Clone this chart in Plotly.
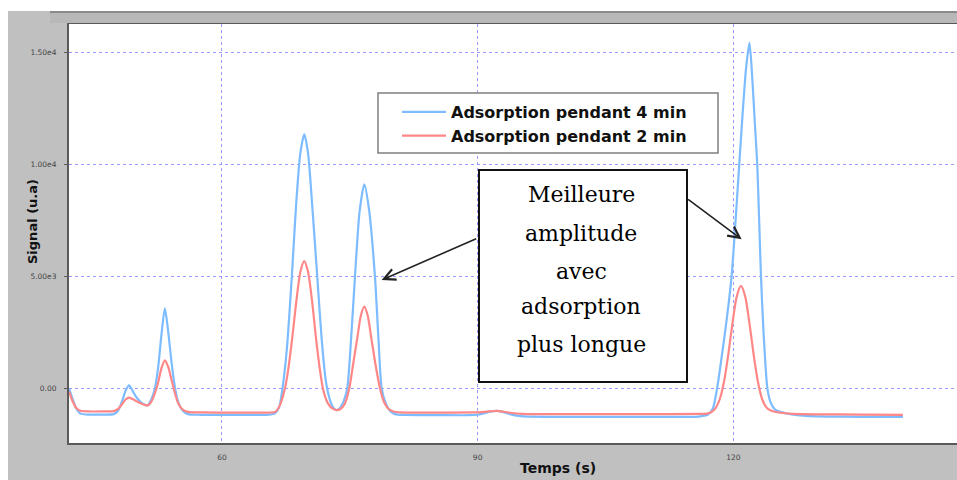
import plotly.graph_objects as go

# ---------------- data ----------------
t_4min = [42.05, 42.5, 42.9, 43.4, 44.2, 46.0, 47.3, 47.8, 48.3, 48.7, 49.1, 49.5, 50.0, 50.5, 51.0, 51.3,
          51.7, 52.1, 52.5, 52.9, 53.3, 53.7, 54.1, 54.5, 54.9, 55.4, 56.0, 57.5, 60.0, 63.0, 65.5,
          66.2, 66.7, 67.1, 67.6, 68.2, 68.7, 69.2, 69.66, 70.1, 70.6, 71.18, 71.7, 72.2, 72.7, 73.1,
          73.46, 73.9, 74.3, 74.7, 75.15, 75.61, 76.15, 76.7, 77.25, 77.95, 78.35, 78.74, 79.2, 79.7,
          80.3, 81.5, 85.0, 89.0, 89.9, 90.7, 91.5, 92.25, 93.0, 93.8, 94.8, 96.0, 100.0, 105.0, 110.0,
          115.5, 116.3, 117.0, 117.6, 118.1, 118.6, 119.2, 119.8, 120.25, 120.7, 121.1, 121.5, 121.9,
          122.25, 122.55, 122.81, 123.05, 123.25, 123.55, 124.0, 124.4, 124.9, 125.4, 126.2, 127.5,
          129.0, 131.0, 135.0, 139.9]
signal_4min = [0, -500, -900, -1130, -1170, -1170, -1150, -1000, -550, -100, 130, -100, -420, -620, -740, -760,
               -500, -50, 900, 2400, 3571, 2500, 1100, 0, -650, -1000, -1150, -1180, -1185, -1185, -1180,
               -1120, -850, 0, 1700, 5000, 8200, 10500, 11340, 10500, 8100, 5000, 2200, 300, -550, -880,
               -969, -850, -550, 0, 2200, 5000, 7900, 9107, 8000, 5000, 2300, 0, -650, -1000,
               -1150, -1190, -1195, -1200, -1180, -1120, -1040, -1010, -1060, -1150, -1230, -1265, -1270, -1275, -1275,
               -1270, -1240, -1180, -900, 0, 1300, 3000, 5000, 7400, 10000, 12300, 14300, 15430,
               13700, 11700, 10000, 7300, 5000, 2500, 0, -650, -950, -1040, -1120, -1200,
               -1240, -1260, -1270, -1275]

t_2min = [42.05, 42.5, 42.9, 43.4, 44.3, 46.0, 47.3, 47.8, 48.3, 48.7, 49.1, 49.5, 50.0, 50.5, 51.0, 51.3,
          51.7, 52.1, 52.5, 52.9, 53.3, 53.7, 54.1, 54.5, 54.9, 55.4, 56.0, 57.5, 60.0, 63.0, 65.5,
          66.3, 66.8, 67.39, 67.8, 68.25, 68.7, 69.2, 69.65, 70.1, 70.6, 71.03, 71.5, 71.9, 72.4, 72.9,
          73.46, 73.9, 74.4, 74.94, 75.4, 75.9, 76.3, 76.7, 77.1, 77.5, 78.0, 78.54, 79.0, 79.5, 80.1,
          81.0, 85.0, 89.5, 90.5, 91.4, 92.25, 93.1, 94.0, 95.2, 100.0, 110.0, 116.0, 116.9, 117.4,
          117.9, 118.4, 118.9, 119.4, 119.9, 120.4, 120.9, 121.4, 121.9, 122.4, 122.9, 123.4, 123.9,
          124.4, 125.0, 125.8, 127.0, 130.0, 135.0, 139.9]
signal_2min = [-150, -600, -880, -1000, -1030, -1030, -1020, -920, -700, -500, -415, -480, -580, -680, -750, -760,
               -600, -250, 250, 900, 1250, 950, 350, -250, -700, -950, -1050, -1075, -1080, -1080, -1080,
               -1040, -750, 0, 900, 2260, 3800, 5200, 5683, 5200, 3800, 2260, 800, -100, -650, -880,
               -969, -920, -700, 0, 1100, 2300, 3250, 3647, 3250, 2300, 1100, 0, -600, -900, -1030,
               -1075, -1080, -1075, -1060, -1030, -1005, -1045, -1100, -1140, -1150, -1150, -1140, -1128, -1069,
               -898, -498, 274, 1470, 2894, 4095, 4570, 4095, 2894, 1470, 274, -498, -860,
               -990, -1055, -1100, -1140, -1160, -1170, -1180]

series_names = ["Adsorption pendant 4 min", "Adsorption pendant 2 min"]
y_tick_vals = [0, 5000, 10000, 15000]
y_tick_text = ["0.00", "5.00e3", "1.00e4", "1.50e4"]
x_tick_vals = [60, 90, 120]
x_tick_text = ["60", "90", "120"]
x_title = "Temps (s)"
y_title = "Signal (u.a)"
note_lines = ["Meilleure", "amplitude", "avec", "adsorption", "plus longue"]
# arrow tips (data coordinates) pointing at peaks
arrow_tips_t = [78.74, 120.98]
arrow_tips_v = [4835, 6652]

# ---------------- layout helpers ----------------
W, H = 957, 480
L, R, T, B = 69, 0, 24, 37
PW, PH = W - L - R, H - T - B


def px(x):
    return (x - L) / PW


def py(y):
    return (H - B - y) / PH


fig = go.Figure()
fig.add_trace(go.Scatter(x=t_4min, y=signal_4min, mode="lines", name=series_names[0],
                         line=dict(color="rgb(125,188,255)", width=2.2, shape="spline", smoothing=0.7)))
fig.add_trace(go.Scatter(x=t_2min, y=signal_2min, mode="lines", name=series_names[1],
                         line=dict(color="rgb(255,135,135)", width=2.2, shape="spline", smoothing=0.7)))

grid_col = "rgba(120,120,255,0.75)"
fig.update_xaxes(range=[42.05, 146.25], tickvals=x_tick_vals, ticktext=x_tick_text,
                 showgrid=True, gridcolor=grid_col, griddash="dot", gridwidth=1, zeroline=False,
                 showline=True, linecolor="#5a5a5a", linewidth=2, mirror=True, ticks="",
                 tickfont=dict(family="DejaVu Sans", size=7.5, color="#444"), ticklabelstandoff=6)
fig.update_yaxes(range=[-2440, 16265], tickvals=y_tick_vals, ticktext=y_tick_text,
                 showgrid=True, gridcolor=grid_col, griddash="dot", gridwidth=1, zeroline=False,
                 showline=True, linecolor="#5a5a5a", linewidth=2, ticks="outside", ticklen=3,
                 tickcolor="#5a5a5a", tickfont=dict(family="DejaVu Sans", size=7.5, color="#444"),
                 ticklabelstandoff=6)

shapes = [
    # white outer strips
    dict(type="rect", xref="paper", yref="paper", x0=px(0), x1=px(8), y0=py(H), y1=py(0),
         fillcolor="white", line=dict(width=0), layer="above"),
    dict(type="rect", xref="paper", yref="paper", x0=px(0), x1=px(W), y0=py(11), y1=py(0),
         fillcolor="white", line=dict(width=0), layer="above"),
    # top window bar
    dict(type="rect", xref="paper", yref="paper", x0=px(50), x1=px(W), y0=py(23), y1=py(12),
         fillcolor="#b8b8b8", line=dict(width=0), layer="above"),
    dict(type="line", xref="paper", yref="paper", x0=px(50), x1=px(W), y0=py(12), y1=py(12),
         line=dict(color="#7a7a7a", width=1.5), layer="above"),
    # legend box
    dict(type="rect", xref="paper", yref="paper", x0=px(378), x1=px(718), y0=py(153), y1=py(93),
         fillcolor="white", line=dict(color="#7f7f7f", width=1.5), layer="above"),
    # note box
    dict(type="rect", xref="paper", yref="paper", x0=px(479), x1=px(687), y0=py(382), y1=py(170),
         fillcolor="white", line=dict(color="#111", width=2), layer="above"),
]

annotations = [
    dict(text=f"<b>{x_title}</b>", xref="paper", yref="paper", x=px(558), y=py(468),
         xanchor="center", yanchor="middle",
         showarrow=False, font=dict(family="DejaVu Sans", size=14, color="#111")),
    dict(text=f"<b>{y_title}</b>", xref="paper", yref="paper", x=px(32), y=py(222),
         xanchor="center", yanchor="middle",
         showarrow=False, textangle=-90, font=dict(family="DejaVu Sans", size=13, color="#111")),
]
note_y = [194, 233, 271, 306, 344]
for line_txt, yy in zip(note_lines, note_y):
    annotations.append(dict(text=line_txt, xref="paper", yref="paper", x=px(581), y=py(yy),
                            showarrow=False, xanchor="center", yanchor="middle",
                            font=dict(family="DejaVu Serif", size=22, color="#000")))
tails = [(96, -42), (-55, -41)]
for tt, vv, (axp, ayp) in zip(arrow_tips_t, arrow_tips_v, tails):
    annotations.append(dict(text="", x=tt, y=vv, xref="x", yref="y", ax=axp, ay=ayp,
                            showarrow=True, arrowhead=5, arrowsize=1.4, arrowwidth=1.6,
                            arrowcolor="#222", standoff=0))

fig.update_layout(
    width=W, height=H, margin=dict(l=L, r=R, t=T, b=B, pad=0),
    paper_bgcolor="#c0c0c0", plot_bgcolor="white",
    shapes=shapes, annotations=annotations,
    showlegend=True,
    legend=dict(x=px(378), y=py(95), xanchor="left", yanchor="top",
                bgcolor="rgba(0,0,0,0)", borderwidth=0, itemwidth=44, indentation=19,
                font=dict(family="DejaVu Sans", size=16, color="#111", weight="bold"),
                tracegroupgap=0),
)

fig.write_html("out.html", config={"displayModeBar": False},
               post_script="document.body.style.margin='0';document.body.style.overflow='hidden';")
